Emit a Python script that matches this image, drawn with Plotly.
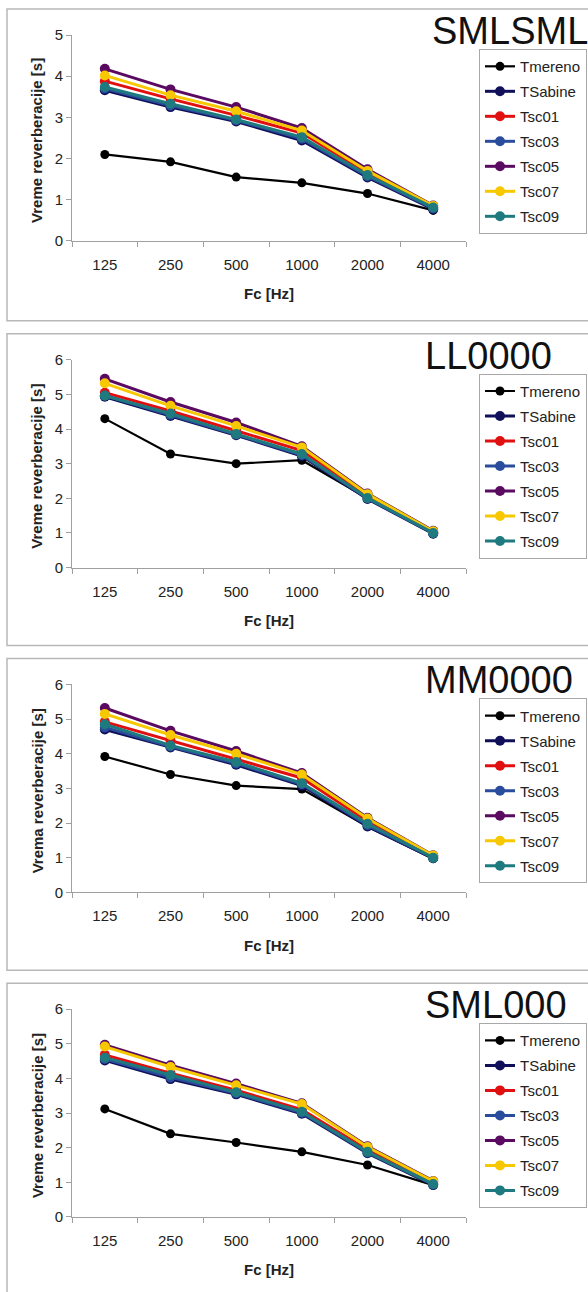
import plotly.graph_objects as go

W, H = 588, 1292
# the photographed page is shown with an 8px band above it and squeezed
# vertically by H/(H+16); map target screen rows to page rows accordingly
S = H / (H + 16)

freqs = ["125", "250", "500", "1000", "2000", "4000"]
series_names = ["Tmereno", "TSabine", "Tsc01", "Tsc03", "Tsc05", "Tsc07", "Tsc09"]
series_colors = ["#000000", "#10105a", "#e01010", "#2a4c9c", "#5a0a60", "#f7c800", "#1e7a7e"]

titles = ["SMLSML", "LL0000", "MM0000", "SML000"]
ylabels = ["Vreme reverberacije [s]", "Vreme reverberacije [s]",
           "Vrema reverberacije [s]", "Vreme reverberacije [s]"]
ymax = [5, 6, 6, 6]

# panel 1 : SMLSML
p1_Tmereno = [2.10, 1.92, 1.55, 1.41, 1.15, 0.74]
p1_TSabine = [3.66, 3.25, 2.90, 2.44, 1.54, 0.77]
p1_Tsc01 = [3.88, 3.45, 3.05, 2.62, 1.65, 0.83]
p1_Tsc03 = [3.70, 3.29, 2.93, 2.48, 1.57, 0.79]
p1_Tsc05 = [4.18, 3.68, 3.25, 2.74, 1.74, 0.86]
p1_Tsc07 = [4.02, 3.54, 3.15, 2.68, 1.70, 0.85]
p1_Tsc09 = [3.74, 3.33, 2.95, 2.52, 1.60, 0.81]

# panel 2 : LL0000
p2_Tmereno = [4.30, 3.28, 3.00, 3.10, 2.00, 0.98]
p2_TSabine = [4.93, 4.38, 3.82, 3.22, 1.98, 0.98]
p2_Tsc01 = [5.05, 4.52, 3.95, 3.38, 2.08, 1.02]
p2_Tsc03 = [4.97, 4.41, 3.84, 3.25, 2.00, 0.99]
p2_Tsc05 = [5.45, 4.78, 4.19, 3.50, 2.14, 1.06]
p2_Tsc07 = [5.32, 4.67, 4.09, 3.47, 2.12, 1.05]
p2_Tsc09 = [4.96, 4.45, 3.86, 3.28, 2.01, 1.00]

# panel 3 : MM0000
p3_Tmereno = [3.92, 3.40, 3.08, 2.98, 1.90, 0.97]
p3_TSabine = [4.70, 4.18, 3.68, 3.08, 1.90, 0.98]
p3_Tsc01 = [4.92, 4.38, 3.85, 3.30, 2.05, 1.04]
p3_Tsc03 = [4.76, 4.21, 3.72, 3.12, 1.94, 0.99]
p3_Tsc05 = [5.32, 4.66, 4.08, 3.44, 2.15, 1.07]
p3_Tsc07 = [5.15, 4.54, 4.00, 3.40, 2.13, 1.06]
p3_Tsc09 = [4.85, 4.24, 3.76, 3.15, 1.98, 1.00]

# panel 4 : SML000
p4_Tmereno = [3.12, 2.40, 2.15, 1.88, 1.50, 0.92]
p4_TSabine = [4.52, 3.98, 3.54, 2.98, 1.84, 0.92]
p4_Tsc01 = [4.68, 4.15, 3.66, 3.10, 1.94, 0.98]
p4_Tsc03 = [4.56, 4.03, 3.57, 3.01, 1.86, 0.94]
p4_Tsc05 = [4.97, 4.38, 3.85, 3.28, 2.04, 1.04]
p4_Tsc07 = [4.92, 4.33, 3.80, 3.26, 2.02, 1.03]
p4_Tsc09 = [4.60, 4.10, 3.60, 3.04, 1.88, 0.95]

panels = [
    [p1_Tmereno, p1_TSabine, p1_Tsc01, p1_Tsc03, p1_Tsc05, p1_Tsc07, p1_Tsc09],
    [p2_Tmereno, p2_TSabine, p2_Tsc01, p2_Tsc03, p2_Tsc05, p2_Tsc07, p2_Tsc09],
    [p3_Tmereno, p3_TSabine, p3_Tsc01, p3_Tsc03, p3_Tsc05, p3_Tsc07, p3_Tsc09],
    [p4_Tmereno, p4_TSabine, p4_Tsc01, p4_Tsc03, p4_Tsc05, p4_Tsc07, p4_Tsc09],
]

FONT = "Liberation Sans, Arial, sans-serif"
px = lambda v: v / W
py = lambda v: 1 - (v / S - 8) / H   # target screen row -> paper fraction

# layout geometry in target screen pixels
box_top = [8, 333, 658, 983]
box_h = 312
axis_top = [34, 359, 684, 1009]
axis_bot = [240, 567, 892, 1217]
title_x = [430, 423, 423, 423]
title_y = [30, 355, 680, 1005]
legend_top = [48, 373, 698, 1023]
x_left, x_right = 72, 466

fig = go.Figure()
layout = dict(
    width=W, height=H,
    margin=dict(l=0, r=0, t=0, b=0),
    paper_bgcolor="white", plot_bgcolor="white",
    font=dict(family=FONT, size=15, color="#222222"),
    shapes=[], annotations=[],
)

for k in range(4):
    xa = "x" if k == 0 else f"x{k+1}"
    ya = "y" if k == 0 else f"y{k+1}"
    lg = "legend" if k == 0 else f"legend{k+1}"
    for i, name in enumerate(series_names):
        fig.add_trace(go.Scatter(
            x=freqs, y=panels[k][i], name=name, mode="lines+markers",
            xaxis=xa, yaxis=ya, legend=lg, legendgroup=f"{k}_{name}",
            line=dict(color=series_colors[i], width=2.2 if i == 0 else 3),
            marker=dict(color=series_colors[i], size=9 if i == 0 else 10),
        ))
    xkey = "xaxis" if k == 0 else f"xaxis{k+1}"
    ykey = "yaxis" if k == 0 else f"yaxis{k+1}"
    layout[xkey] = dict(
        domain=[px(x_left), px(x_right)], anchor=ya,
        type="category", range=[-0.5, 5.5],
        showline=True, linecolor="#a0a0a0", linewidth=1,
        ticks="outside", ticklen=5, tickcolor="#a0a0a0", tickson="boundaries",
        showgrid=False, zeroline=False, ticklabelstandoff=10,
        tickfont=dict(size=15, color="#222222"),
    )
    layout[ykey] = dict(
        domain=[py(axis_bot[k]), py(axis_top[k])], anchor=xa,
        range=[0, ymax[k]], dtick=1,
        showline=True, linecolor="#a0a0a0", linewidth=1,
        ticks="outside", ticklen=5, tickcolor="#a0a0a0",
        showgrid=False, zeroline=False,
        tickfont=dict(size=15, color="#222222"),
    )
    layout[lg] = dict(
        x=px(479), y=py(legend_top[k]), xanchor="left", yanchor="top",
        bgcolor="white", bordercolor="#a8a8a8", borderwidth=1,
        font=dict(size=15, color="#222222", family=FONT),
        tracegroupgap=2.5, itemwidth=30,
    )
    layout["shapes"].append(dict(
        type="rect", xref="paper", yref="paper",
        x0=px(7), x1=px(600), y0=max(py(box_top[k] + box_h), -0.01), y1=py(box_top[k]),
        line=dict(color="#b8b8b8", width=1.5), layer="below",
    ))
    layout["annotations"].append(dict(
        text=titles[k], xref="paper", yref="paper",
        x=px(title_x[k]), y=py(title_y[k]), xanchor="left", yanchor="middle",
        showarrow=False, font=dict(size=38, color="#111111", family=FONT),
    ))
    layout["annotations"].append(dict(
        text=f"<b>{ylabels[k]}</b>", xref="paper", yref="paper",
        x=px(37), y=py((axis_top[k] + axis_bot[k]) / 2 + 3), xanchor="center", yanchor="middle",
        textangle=-90, showarrow=False, font=dict(size=15, color="#222222", family=FONT),
    ))
    layout["annotations"].append(dict(
        text="<b>Fc [Hz]</b>", xref="paper", yref="paper",
        x=px((x_left + x_right) / 2), y=py(axis_bot[k] + 53), xanchor="center", yanchor="middle",
        showarrow=False, font=dict(size=15, color="#222222", family=FONT),
    ))

fig.update_layout(**layout)
fig.write_html(
    "out.html",
    config={"displayModeBar": False},
    post_script="document.body.style.margin='0';document.body.style.padding='0';"
                "document.documentElement.style.overflow='hidden';",
)
